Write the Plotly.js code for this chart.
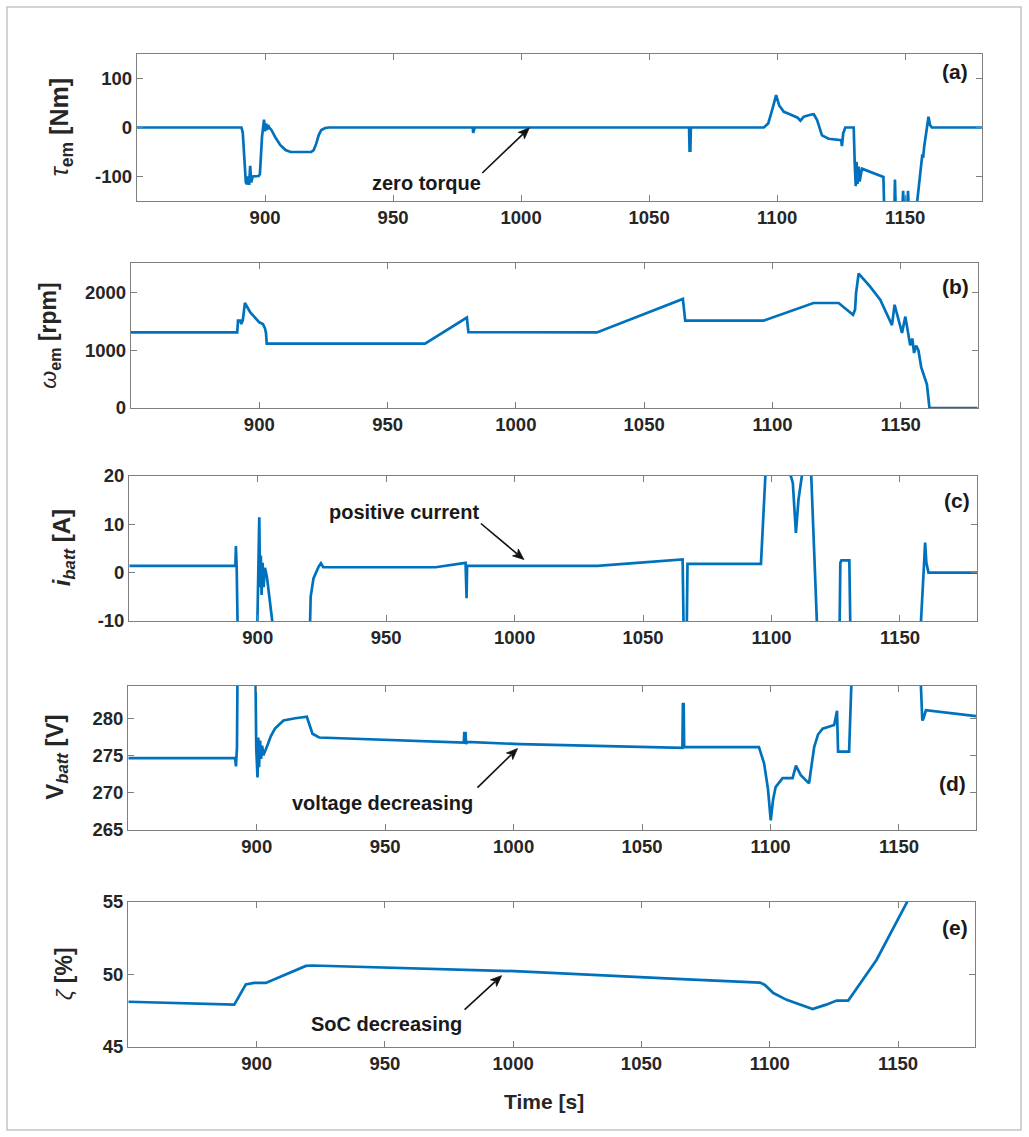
<!DOCTYPE html>
<html>
<head>
<meta charset="utf-8">
<script src="https://cdn.plot.ly/plotly-3.0.1.min.js"></script>
<style>
  html, body { margin: 0; padding: 0; background: #ffffff; }
  #chart { width: 1029px; height: 1137px; }
</style>
</head>
<body>
<div id="chart"></div>
<script>
// (a) electric machine torque [Nm]
const torqueTime = [850, 890.8, 891.3, 892.0, 892.5, 893.0, 893.4, 893.8, 894.2, 894.6, 895.2, 897.5, 898.0, 898.8, 899.6, 900.0, 900.4, 900.8, 901.2, 901.6, 902.5, 904.0, 906.0, 908.0, 910.0, 918.0, 919.0, 920.0, 921.0, 922.0, 923.5, 925.0, 981.1, 981.3, 981.6, 981.9, 1065.6, 1065.8, 1066.1, 1066.3, 1094.8, 1096.5, 1098.0, 1099.6, 1100.8, 1102.6, 1104.5, 1106.0, 1108.0, 1109.1, 1110.4, 1113.0, 1114.3, 1115.6, 1116.5, 1117.5, 1120.1, 1125.0, 1125.3, 1125.8, 1126.6, 1129.9, 1130.3, 1130.7, 1131.0, 1131.4, 1131.8, 1132.2, 1133.1, 1141.5, 1141.8, 1145.8, 1146.0, 1146.3, 1148.9, 1149.2, 1149.5, 1150.8, 1151.1, 1151.4, 1154.5, 1156.0, 1156.7, 1157.0, 1157.4, 1158.5, 1159.1, 1159.7, 1160.4, 1180];
const torqueNm = [0, 0, -10, -80, -112, -116, -100, -117, -78, -112, -100, -99, -95, -20, 16, -8, 8, -5, 5, 0, -5, -20, -36, -46, -50, -50, -46, -33, -15, -5, -1, 0, 0, -11, -3, 0, 0, -47, -47, 0, 0, 8, 35, 66, 45, 32, 28, 25, 20, 14, 22, 26, 27, 15, -2, -16, -23, -26, -38, -12, 0, 0, -74, -120, -70, -115, -80, -110, -84, -101, -165, -165, -106, -165, -165, -129, -165, -165, -129, -165, -160, -80, -55, -62, -40, 0, 22, 5, 0, 0];

// (b) electric machine speed [rpm]
const speedTime = [850, 891.4, 891.7, 892.6, 893.0, 893.6, 894.4, 896.5, 898.0, 900.0, 901.4, 902.2, 902.6, 902.9, 964.6, 980.9, 981.5, 1031.6, 1065.1, 1066.0, 1096.5, 1116.0, 1125.8, 1131.4, 1132.2, 1132.6, 1133.6, 1138.0, 1142.0, 1146.6, 1147.6, 1150.5, 1151.8, 1153.7, 1154.5, 1155.2, 1156.0, 1156.9, 1158.0, 1158.9, 1160.2, 1161.2, 1180];
const speedRpm = [1305, 1305, 1509, 1509, 1450, 1520, 1814, 1650, 1580, 1480, 1450, 1380, 1300, 1112, 1112, 1561, 1310, 1305, 1884, 1509, 1509, 1814, 1814, 1609, 1700, 1989, 2323, 2100, 1872, 1433, 1784, 1298, 1579, 1082, 1200, 950, 1080, 995, 700, 586, 410, 0, 0];

// (c) battery current [A]
const currentTime = [850, 891.3, 891.5, 891.8, 892.2, 899.8, 900.6, 900.9, 901.2, 901.5, 901.9, 902.3, 902.8, 903.6, 906.1, 920.3, 920.6, 921.7, 923.7, 924.6, 925.5, 969.2, 980.9, 981.3, 981.5, 1032.2, 1065.4, 1065.8, 1067.0, 1067.3, 1095.9, 1097.8, 1105.0, 1107.5, 1108.3, 1109.5, 1110.5, 1112.1, 1115.4, 1117.8, 1126.5, 1126.8, 1127.2, 1130.3, 1130.7, 1158.0, 1159.3, 1159.8, 1160.3, 1161.1, 1180];
const currentA = [1.4, 1.4, 5.5, 1.0, -12, -12, 11.4, -3, 3.5, -4.6, 2, -3, 1, -1, -12, -12, -5.0, -1.2, 1.2, 1.9, 1.1, 1.1, 2.0, -5.3, 1.4, 1.4, 2.7, -12, -12, 1.8, 1.8, 22, 21, 20, 18.5, 8.2, 15, 21, 21, -12, -12, 2.0, 2.5, 2.5, -12, -12, 1, 6.2, 2, 0, 0];

// (d) battery voltage [V]
const voltageTime = [850, 891.6, 891.9, 892.3, 892.6, 899.0, 899.4, 899.8, 900.3, 900.6, 900.9, 901.3, 901.7, 902.1, 902.6, 903.9, 905.5, 907.1, 910.4, 915.0, 919.5, 921.7, 924.3, 980.6, 980.8, 981.3, 981.5, 981.8, 1002.6, 1065.7, 1065.9, 1066.2, 1066.4, 1095.5, 1097.5, 1099.0, 1100.1, 1101.0, 1102.0, 1104.7, 1108.6, 1109.9, 1111.8, 1115.0, 1117.0, 1118.5, 1120.3, 1124.8, 1125.9, 1126.3, 1130.6, 1132.0, 1157.9, 1159.1, 1159.6, 1160.5, 1180];
const voltageV = [274.6, 274.6, 273.5, 276, 290, 290, 290, 276, 272.0, 277.4, 273.4, 277, 274.5, 276.3, 275.0, 276.1, 277.6, 278.6, 279.7, 280.0, 280.2, 277.9, 277.4, 276.7, 278.0, 278.0, 276.5, 276.8, 276.5, 276.0, 281.9, 281.9, 276.1, 276.1, 273.9, 270.5, 266.2, 269.0, 270.7, 271.9, 271.9, 273.6, 272.3, 271.2, 276.1, 277.8, 278.6, 279.1, 281.0, 275.5, 275.5, 290, 290, 279.7, 280.0, 281.1, 280.3];

// (e) battery state of charge [%]
const socTime = [850, 891.3, 895.8, 899.0, 903.6, 907.5, 912.7, 919.2, 921.7, 1002.6, 1065.7, 1096.2, 1098.1, 1101.4, 1106.6, 1116.7, 1122.0, 1126.1, 1130.6, 1141.6, 1153.3, 1156.0];
const socPct = [48.1, 47.9, 49.3, 49.4, 49.4, 49.7, 50.07, 50.57, 50.6, 50.2, 49.66, 49.42, 49.26, 48.7, 48.23, 47.59, 47.9, 48.18, 48.18, 50.98, 54.9, 55.8];

// axis ranges and ticks
const timeRange = [850, 1180];
const timeTicks = [900, 950, 1000, 1050, 1100, 1150];
const torqueRange = [-150, 150], torqueTicks = [-100, 0, 100];
const speedRange = [0, 2500], speedTicks = [0, 1000, 2000];
const currentRange = [-10, 20], currentTicks = [-10, 0, 10, 20];
const voltageRange = [264.9, 284.4], voltageTicks = [265, 270, 275, 280];
const socRange = [45, 55], socTicks = [45, 50, 55];

const W = 1029, H = 1137;
const FONT = 'Liberation Sans, Arial, Helvetica, sans-serif';
const BLUE = '#0072BD';
const AXIS_GREY = '#7f7f7f';

// panel boxes in pixels: [left, right, top, bottom]
const boxes = [
  [137, 982, 54, 201],
  [131, 977.7, 263.3, 408],
  [129.3, 977, 475.7, 621],
  [128.3, 976, 685.7, 830],
  [128.3, 975, 901.7, 1046.7]
];

const series = [
  [torqueTime, torqueNm],
  [speedTime, speedRpm],
  [currentTime, currentA],
  [voltageTime, voltageV],
  [socTime, socPct]
];
const yRanges = [torqueRange, speedRange, currentRange, voltageRange, socRange];
const yTicks = [torqueTicks, speedTicks, currentTicks, voltageTicks, socTicks];

const traces = series.map((s, i) => ({
  x: s[0], y: s[1],
  xaxis: i === 0 ? 'x' : 'x' + (i + 1),
  yaxis: i === 0 ? 'y' : 'y' + (i + 1),
  type: 'scatter', mode: 'lines',
  line: { color: BLUE, width: 2.7 },
  hoverinfo: 'x+y', showlegend: false
}));

const tickFont = { family: FONT, size: 18.5, color: '#262626', weight: 'bold' };

const layout = {
  width: W, height: H,
  margin: { l: 0, r: 0, t: 0, b: 0 },
  paper_bgcolor: '#ffffff',
  plot_bgcolor: '#ffffff',
  showlegend: false,
  font: { family: FONT, color: '#262626' },
  annotations: [],
  shapes: [{
    type: 'rect', xref: 'paper', yref: 'paper',
    x0: 7 / W, x1: 1021 / W, y0: 1 - 1130 / H, y1: 1 - 7 / H,
    line: { color: '#c4c4c4', width: 1.5 }, fillcolor: 'rgba(0,0,0,0)'
  }]
};

boxes.forEach((b, i) => {
  const xn = i === 0 ? 'xaxis' : 'xaxis' + (i + 1);
  const yn = i === 0 ? 'yaxis' : 'yaxis' + (i + 1);
  const xa = i === 0 ? 'x' : 'x' + (i + 1);
  const ya = i === 0 ? 'y' : 'y' + (i + 1);
  layout[xn] = {
    domain: [b[0] / W, b[1] / W], anchor: ya,
    range: timeRange, tickvals: timeTicks, ticktext: timeTicks.map(String),
    ticks: 'inside', ticklen: 6, tickwidth: 1, tickcolor: AXIS_GREY,
    showline: true, linecolor: AXIS_GREY, linewidth: 1.2, mirror: 'ticks',
    showgrid: false, zeroline: false, tickfont: tickFont, fixedrange: true
  };
  layout[yn] = {
    domain: [1 - b[3] / H, 1 - b[2] / H], anchor: xa,
    range: yRanges[i], tickvals: yTicks[i], ticktext: yTicks[i].map(String),
    ticks: 'inside', ticklen: 6, tickwidth: 1, tickcolor: AXIS_GREY,
    showline: true, linecolor: AXIS_GREY, linewidth: 1.2, mirror: 'ticks',
    showgrid: false, zeroline: false, tickfont: tickFont, fixedrange: true
  };
});

// y-axis titles, placed left of each panel
const yTitles = [
  { text: '<i>τ</i><sub><b>em</b></sub><b> [Nm]</b>', x: 61, size: 25 },
  { text: '<i>ω</i><sub><b>em</b></sub><b> [rpm]</b>', x: 50, size: 23 },
  { text: '<b><i>i</i></b><sub><b><i>batt</i></b></sub><b> [A]</b>', x: 63, size: 24 },
  { text: '<b>V</b><sub><b><i>batt</i></b></sub><b> [V]</b>', x: 57, size: 24 },
  { text: '<i>ζ</i><b> [%]</b>', x: 64, size: 23 }
];
yTitles.forEach((t, i) => {
  const b = boxes[i];
  layout.annotations.push({
    xref: 'paper', yref: 'paper',
    x: t.x / W, y: 1 - ((b[2] + b[3]) / 2) / H,
    xanchor: 'center', yanchor: 'middle', textangle: -90,
    text: t.text, showarrow: false,
    font: { family: FONT, size: t.size, color: '#262626' }
  });
});

// shared x-axis title under the last panel
layout.annotations.push({
  xref: 'paper', yref: 'paper', x: 544 / W, y: 1 - 1101 / H,
  xanchor: 'center', yanchor: 'middle',
  text: '<b>Time [s]</b>', showarrow: false,
  font: { family: FONT, size: 21, color: '#262626' }
});

// panel letters
const panelLetters = [
  ['(a)', 1169.5, 114],
  ['(b)', 1171.2, 2105],
  ['(c)', 1172.3, 14.8],
  ['(d)', 1170.9, 271.2],
  ['(e)', 1172.2, 53.2]
];
panelLetters.forEach((p, i) => {
  layout.annotations.push({
    xref: i === 0 ? 'x' : 'x' + (i + 1), yref: i === 0 ? 'y' : 'y' + (i + 1),
    x: p[1], y: p[2], xanchor: 'center', yanchor: 'middle',
    text: '<b>' + p[0] + '</b>', showarrow: false,
    font: { family: FONT, size: 21, color: '#1a1a1a' }
  });
});

// callout notes: label text plus an arrow (pixel offsets from the arrow tip)
const notes = [
  { ax: 'x', ay: 'y', label: 'zero torque', lx: 963, ly: -114, tx: 1003.2, ty: -1, dx: -47, dy: 45 },
  { ax: 'x3', ay: 'y3', label: 'positive current', lx: 957.1, ly: 12.6, tx: 1003.6, ty: 2.7, dx: -43, dy: -36 },
  { ax: 'x4', ay: 'y4', label: 'voltage decreasing', lx: 948.8, ly: 268.6, tx: 1001.5, ty: 275.9, dx: -40, dy: 39 },
  { ax: 'x5', ay: 'y5', label: 'SoC decreasing', lx: 950.7, ly: 46.6, tx: 995.5, ty: 49.9, dx: -37, dy: 34 }
];
const HEAD_LEN = 11, HEAD_HALF = 4.5;
notes.forEach(n => {
  layout.annotations.push({
    xref: n.ax, yref: n.ay, x: n.lx, y: n.ly,
    xanchor: 'center', yanchor: 'middle',
    text: '<b>' + n.label + '</b>', showarrow: false,
    font: { family: FONT, size: 20, color: '#1a1a1a' }
  });
  // arrow path in pixel units around the tip (y positive upwards)
  const txp = n.dx, typ = -n.dy;
  const len = Math.hypot(txp, typ);
  const ux = -txp / len, uy = -typ / len;     // unit vector tail -> tip
  const bx = -ux * HEAD_LEN, by = -uy * HEAD_LEN;
  const px = -uy * HEAD_HALF, py = ux * HEAD_HALF;
  const f = v => v.toFixed(2);
  layout.shapes.push({
    type: 'path', xref: n.ax, yref: n.ay,
    xsizemode: 'pixel', ysizemode: 'pixel', xanchor: n.tx, yanchor: n.ty,
    path: `M${f(txp)},${f(typ)} L${f(bx * 0.8)},${f(by * 0.8)}`,
    line: { color: '#111111', width: 1.6 }
  });
  layout.shapes.push({
    type: 'path', xref: n.ax, yref: n.ay,
    xsizemode: 'pixel', ysizemode: 'pixel', xanchor: n.tx, yanchor: n.ty,
    path: `M0,0 L${f(bx + px)},${f(by + py)} L${f(bx * 0.75)},${f(by * 0.75)} L${f(bx - px)},${f(by - py)} Z`,
    fillcolor: '#111111', line: { color: '#111111', width: 0.8 }
  });
});

Plotly.newPlot('chart', traces, layout, { displayModeBar: false, staticPlot: true });
</script>
</body>
</html>
